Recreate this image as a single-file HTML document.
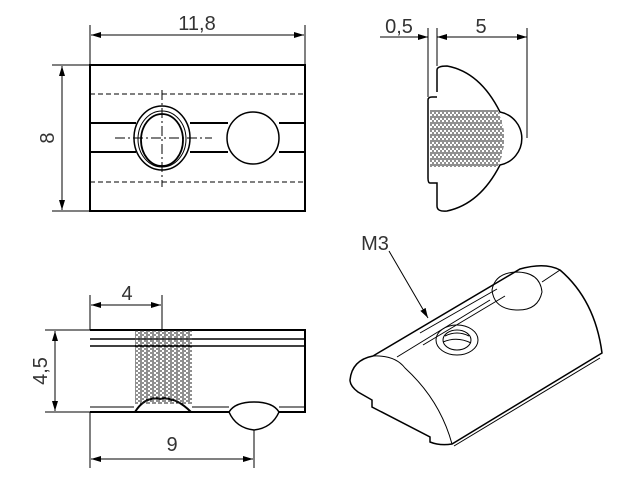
<!DOCTYPE html>
<html><head><meta charset="utf-8"><style>
html,body{margin:0;padding:0;background:#fff;}
svg{display:block;}
text{font-family:"Liberation Sans Narrow","Liberation Sans",sans-serif;font-size:20px;fill:#333;}
</style></head><body>
<svg width="638" height="479" viewBox="0 0 638 479" xmlns="http://www.w3.org/2000/svg">
<defs>
<marker id="a" viewBox="0 0 10 6" refX="10" refY="3" markerWidth="10" markerHeight="6" orient="auto-start-reverse" markerUnits="userSpaceOnUse"><path d="M0,0 L10,3 L0,6 z" fill="#000"/></marker>
<pattern id="th" width="6" height="4" patternUnits="userSpaceOnUse"><path d="M0,1 L4,1 M2,3 L6,3" stroke="#222" stroke-width="1"/></pattern>
<pattern id="tv" width="4" height="6" patternUnits="userSpaceOnUse"><path d="M1,0 L1,4 M3,2 L3,6" stroke="#222" stroke-width="1"/></pattern>
</defs>
<g fill="none" stroke="#000" stroke-width="1">
<rect x="90" y="65" width="215" height="146" stroke-width="2"/>
<line x1="90" y1="94" x2="305" y2="94" stroke-dasharray="5,3"/>
<line x1="90" y1="182" x2="305" y2="182" stroke-dasharray="5,3"/>
<path d="M90,123 H136 M190,123 H228 M279,123 H305 M90,152 H136 M190,152 H228 M279,152 H305" stroke-width="2"/>
<ellipse cx="162" cy="138" rx="28" ry="32" stroke-width="1.5"/>
<ellipse cx="162" cy="139" rx="24" ry="28" stroke-width="1"/>
<ellipse cx="162" cy="140" rx="21" ry="26" stroke-width="1.8"/>
<line x1="115" y1="138" x2="212" y2="138" stroke-dasharray="10,3,2,3"/>
<line x1="162" y1="90" x2="162" y2="187" stroke-dasharray="10,3,2,3"/>
<circle cx="253" cy="138" r="26" stroke-width="1.5"/>
<line x1="90" y1="25" x2="90" y2="65"/><line x1="305" y1="25" x2="305" y2="65"/>
<line x1="91" y1="35" x2="304" y2="35" marker-start="url(#a)" marker-end="url(#a)"/>
<line x1="52" y1="65" x2="90" y2="65"/><line x1="52" y1="211" x2="90" y2="211"/>
<line x1="62" y1="66" x2="62" y2="210" marker-start="url(#a)" marker-end="url(#a)"/>
<path d="M437,92 V70 Q437,66 447,66 Q480,72 500,112 A27,27 0 0 1 500,165 Q480,204 447,211 Q437,212 437,206 V183 H430 Q428,183 428,178 V100 Q428,97 432,97 H437" stroke-width="1.5"/>
<path d="M430,110 H498 Q510,138 498,167 H430 Z" fill="url(#tv)" stroke="none"/>
<line x1="428" y1="28" x2="428" y2="97"/><line x1="437" y1="28" x2="437" y2="66"/><line x1="527" y1="28" x2="527" y2="138"/>
<line x1="380" y1="37" x2="428" y2="37" marker-end="url(#a)"/>
<line x1="437" y1="37" x2="527" y2="37" marker-start="url(#a)" marker-end="url(#a)"/>
<path d="M90,330 H305 V412 H279 M229,412 H191 Q175,396 160,399 Q145,396 135,412 H90 Z" stroke-width="2"/>
<path d="M90,339 H305 M90,346 H305" stroke-width="1.5"/>
<path d="M90,407 H134 M192,407 H229 M279,407 H305" stroke-width="1"/>
<rect x="135" y="330" width="57" height="74" fill="url(#th)" stroke="none"/>
<path d="M229,412 Q235,402 254,402 Q273,402 279,412 Q272,428 254,430 Q236,428 229,412 Z" stroke-width="1.5"/>
<line x1="90" y1="295" x2="90" y2="330"/><line x1="162" y1="295" x2="162" y2="330"/>
<line x1="91" y1="305" x2="161" y2="305" marker-start="url(#a)" marker-end="url(#a)"/>
<line x1="45" y1="330" x2="90" y2="330"/><line x1="45" y1="412" x2="90" y2="412"/>
<line x1="55" y1="331" x2="55" y2="411" marker-start="url(#a)" marker-end="url(#a)"/>
<line x1="90" y1="412" x2="90" y2="468"/><line x1="254" y1="430" x2="254" y2="468"/>
<line x1="91" y1="459" x2="253" y2="459" marker-start="url(#a)" marker-end="url(#a)"/>
<path d="M373,356 L520,269 Q545,262 560,270 Q595,300 602,353 L452,444 Q440,446 430,442 V437 L372,407 V400 L358,392 Q350,386 350,380 Q352,360 373,356 Z" stroke-width="1.5"/>
<path d="M373,356 Q395,355 405,368 Q440,400 452,444"/>
<path d="M600,358 L454,446"/>
<path d="M397,357 L490,300 M420,333 L497,289 M423,345 L505,296"/>
<path d="M542,282 L560,270"/>
<path d="M492,290 Q495,273 516,272 Q540,272 542,292 Q538,311 516,310 Q494,309 492,290 Z"/>
<ellipse cx="457" cy="340" rx="21" ry="15"/>
<ellipse cx="457" cy="340" rx="14" ry="10"/>
<path d="M445,336 Q457,330 469,336 M443,342 Q457,336 471,343"/>
<line x1="389" y1="251" x2="428" y2="318" marker-end="url(#a)"/>
</g>
<text x="197" y="30" text-anchor="middle">11,8</text>
<text x="47" y="138" text-anchor="middle" transform="rotate(-90 47 138)" dy="7">8</text>
<text x="399" y="33" text-anchor="middle">0,5</text>
<text x="481" y="33" text-anchor="middle">5</text>
<text x="127" y="300" text-anchor="middle">4</text>
<text x="40" y="371" text-anchor="middle" transform="rotate(-90 40 371)" dy="7">4,5</text>
<text x="172" y="451" text-anchor="middle">9</text>
<text x="375" y="250" text-anchor="middle">M3</text>
</svg>
</body></html>
